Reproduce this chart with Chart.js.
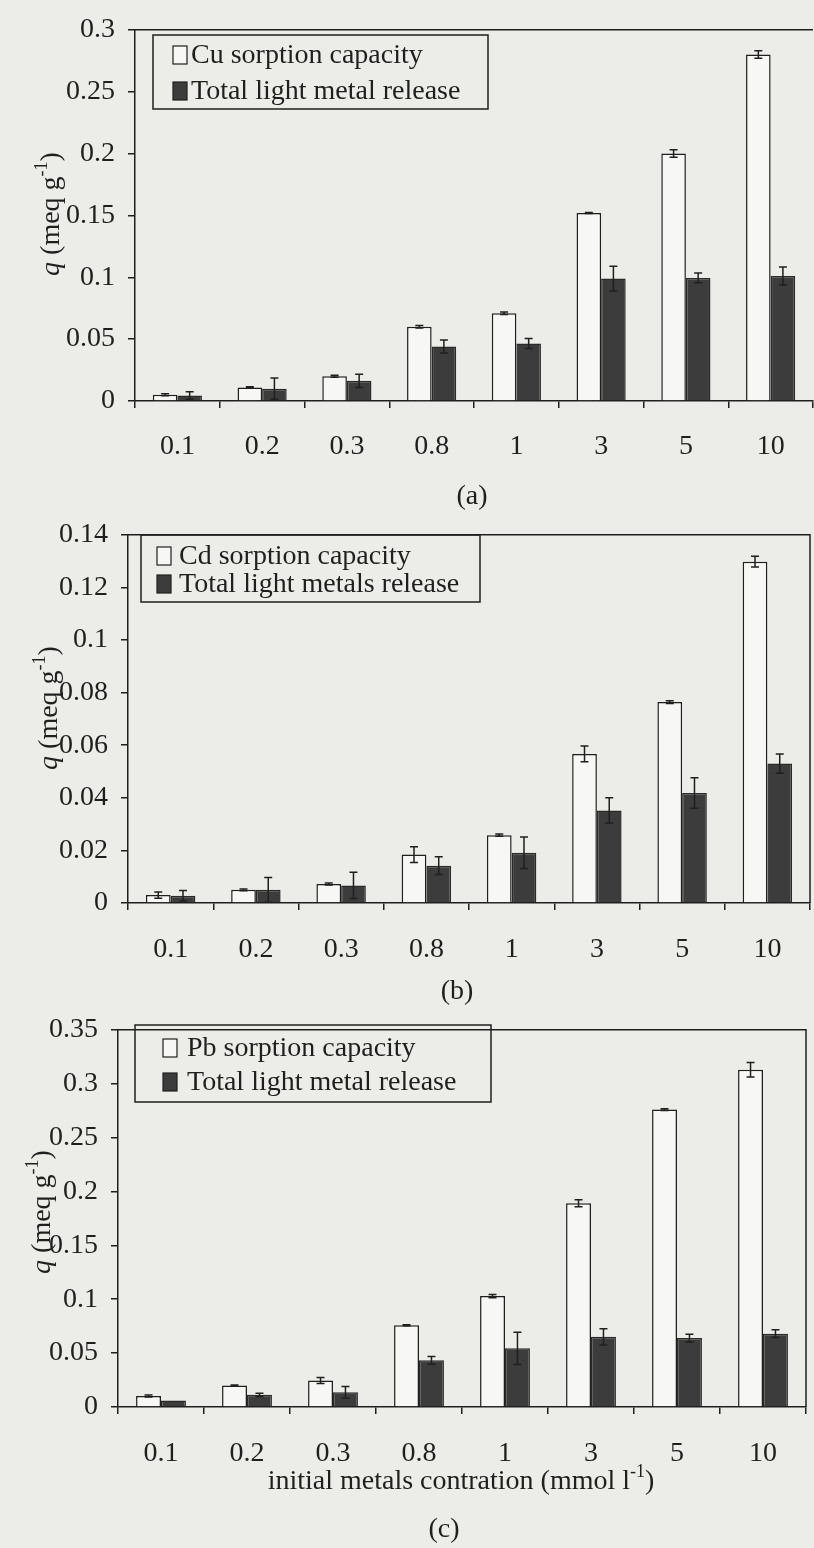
<!DOCTYPE html>
<html>
<head>
<meta charset="utf-8">
<script src="https://cdn.jsdelivr.net/npm/chart.js@4.4.1/dist/chart.umd.min.js"></script>
<style>
  body { margin: 0; background: #ecece9; }
  #page { position: relative; width: 814px; height: 1548px; overflow: hidden; }
  canvas { position: absolute; left: 0; }
</style>
</head>
<body>
<div id="page">
  <canvas id="chartA" width="814" height="515" style="top:0px"></canvas>
  <canvas id="chartB" width="814" height="515" style="top:505px"></canvas>
  <canvas id="chartC" width="814" height="548" style="top:1000px"></canvas>
</div>
<script>
// initial metal concentration (mmol/l), same for all three panels
const concentrations = ['0.1', '0.2', '0.3', '0.8', '1', '3', '5', '10'];

// (a) Cu
const cuSorption    = [0.005, 0.011, 0.020, 0.060, 0.071, 0.152, 0.200, 0.280];
const cuSorptionErr = [0.0008, 0.0006, 0.0009, 0.0010, 0.0010, 0.0004, 0.0030, 0.0030];
const cuRelease     = [0.0045, 0.010, 0.0163, 0.044, 0.0465, 0.099, 0.0995, 0.101];
const cuReleaseErr  = [0.003, 0.0085, 0.0053, 0.0053, 0.004, 0.010, 0.004, 0.0072];

// (b) Cd
const cdSorption    = [0.0030, 0.0050, 0.0072, 0.0184, 0.0258, 0.0567, 0.0764, 0.1298];
const cdSorptionErr = [0.0012, 0.0003, 0.0004, 0.0030, 0.0004, 0.0030, 0.0005, 0.0020];
const cdRelease     = [0.0028, 0.0050, 0.0067, 0.0142, 0.0191, 0.0352, 0.0418, 0.0530];
const cdReleaseErr  = [0.0020, 0.0047, 0.0050, 0.0034, 0.0060, 0.0048, 0.0058, 0.0037];

// (c) Pb
const pbSorption    = [0.0102, 0.0199, 0.0246, 0.0759, 0.1029, 0.189, 0.276, 0.313];
const pbSorptionErr = [0.0010, 0.0004, 0.0027, 0.0005, 0.0015, 0.0033, 0.0008, 0.0067];
const pbRelease     = [0.0060, 0.0113, 0.0136, 0.0433, 0.0544, 0.0651, 0.0640, 0.0680];
const pbReleaseErr  = [0.0000, 0.0015, 0.0054, 0.0036, 0.0150, 0.0075, 0.0036, 0.0036];

const ink = '#1f1f1f';
const barWhite = '#f7f7f5';
const barDark = '#3c3c3c';
const serif = '"Liberation Serif", "Times New Roman", serif';
const tickFont = { family: serif, size: 28 };

// error bars drawn on top of the bars, through the y scale
function errorBarPlugin(errs) {
    return {
        id: 'errorBars',
        afterDatasetsDraw(chart) {
            const ctx = chart.ctx;
            const y = chart.scales.y;
            ctx.save();
            ctx.strokeStyle = ink;
            ctx.lineWidth = 1.5;
            chart.data.datasets.forEach((ds, d) => {
                chart.getDatasetMeta(d).data.forEach((bar, i) => {
                    const e = errs[d][i];
                    if (!e) return;
                    const v = ds.data[i];
                    const top = y.getPixelForValue(v + e);
                    const bot = y.getPixelForValue(Math.max(v - e, 0));
                    ctx.beginPath();
                    ctx.moveTo(bar.x, top); ctx.lineTo(bar.x, bot);
                    ctx.moveTo(bar.x - 4, top); ctx.lineTo(bar.x + 4, top);
                    ctx.moveTo(bar.x - 4, bot); ctx.lineTo(bar.x + 4, bot);
                    ctx.stroke();
                });
            });
            ctx.restore();
        }
    };
}

// draws text pieces in a row, centered on 0; pieces can be raised (superscript)
function drawPieces(ctx, pieces) {
    let total = 0;
    pieces.forEach(p => { ctx.font = p.f; total += ctx.measureText(p.t).width; });
    let x = -total / 2;
    pieces.forEach(p => {
        ctx.font = p.f;
        ctx.fillText(p.t, x, p.dy || 0);
        x += ctx.measureText(p.t).width;
    });
}

function unitPieces(before) {
    return [
        { t: before, f: '28px ' + serif },
        { t: '-1', f: '18px ' + serif, dy: -10 },
        { t: ')', f: '28px ' + serif }
    ];
}

// frame, legend box, axis titles and panel captions
function decorPlugin(spec) {
    return {
        id: 'decor',
        afterDraw(chart) {
            const ctx = chart.ctx;
            const a = chart.chartArea;
            ctx.save();
            ctx.strokeStyle = ink;
            ctx.fillStyle = ink;
            ctx.lineWidth = 1.5;

            // top and right frame
            ctx.beginPath();
            ctx.moveTo(a.left, a.top); ctx.lineTo(a.right, a.top);
            if (spec.rightBorder) ctx.lineTo(a.right, a.bottom);
            ctx.stroke();

            // legend
            const b = spec.legendBox;
            ctx.strokeRect(b[0], b[1], b[2], b[3]);
            ctx.font = '28px ' + serif;
            ctx.textBaseline = 'middle';
            ctx.textAlign = 'left';
            chart.data.datasets.forEach((ds, d) => {
                const cy = spec.rows[d];
                ctx.fillStyle = ds.backgroundColor;
                ctx.fillRect(spec.symX, cy - 9, 14, 18);
                ctx.lineWidth = 1.2;
                ctx.strokeRect(spec.symX, cy - 9, 14, 18);
                ctx.fillStyle = ink;
                ctx.fillText(ds.label, spec.textX, cy + 1);
            });

            // y title: q (meq g-1)
            ctx.save();
            ctx.translate(spec.yTitle[0], spec.yTitle[1]);
            ctx.rotate(-Math.PI / 2);
            drawPieces(ctx, [{ t: 'q', f: 'italic 28px ' + serif }].concat(unitPieces(' (meq g')));
            ctx.restore();

            // x title (bottom panel only)
            if (spec.xTitle) {
                ctx.save();
                ctx.translate(spec.xTitle[0], spec.xTitle[1]);
                drawPieces(ctx, unitPieces('initial metals contration (mmol l'));
                ctx.restore();
            }

            // caption
            ctx.font = '28px ' + serif;
            ctx.textAlign = 'center';
            ctx.fillText(spec.caption[0], spec.caption[1], spec.caption[2]);
            ctx.restore();
        }
    };
}

function panelConfig(spec) {
    return {
        type: 'bar',
        data: {
            labels: concentrations,
            datasets: [
                {
                    label: spec.names[0],
                    data: spec.sorption,
                    backgroundColor: barWhite,
                    borderColor: ink,
                    borderWidth: 1.5,
                    categoryPercentage: 0.58,
                    barPercentage: 1.0
                },
                {
                    label: spec.names[1],
                    data: spec.release,
                    backgroundColor: barDark,
                    borderColor: '#2a2a2a',
                    borderWidth: 1.5,
                    categoryPercentage: 0.58,
                    barPercentage: 1.0
                }
            ]
        },
        options: {
            responsive: false,
            animation: false,
            layout: { padding: { left: 0, top: spec.top, right: spec.right, bottom: 0 } },
            plugins: {
                legend: { display: false },
                tooltip: { enabled: false }
            },
            scales: {
                x: {
                    grid: { offset: true, drawOnChartArea: false, tickLength: 7, color: ink, lineWidth: 1.5 },
                    border: { color: ink, width: 1.5 },
                    ticks: { font: tickFont, color: ink, padding: spec.xPad, maxRotation: 0, autoSkip: false },
                    afterFit: s => { s.height = spec.xHeight; }
                },
                y: {
                    min: 0,
                    max: spec.yMax,
                    grid: { drawOnChartArea: false, tickLength: 7, color: ink, lineWidth: 1.5 },
                    border: { color: ink, width: 1.5 },
                    ticks: {
                        stepSize: spec.step,
                        font: tickFont,
                        color: ink,
                        padding: 13,
                        callback: v => String(+v.toFixed(3))
                    },
                    afterFit: s => { s.width = spec.left; }
                }
            }
        },
        plugins: [
            errorBarPlugin([spec.sorptionErr, spec.releaseErr]),
            decorPlugin(spec)
        ]
    };
}

var chartA = new Chart(document.getElementById('chartA'), panelConfig({
    names: ['Cu sorption capacity', 'Total light metal release'],
    sorption: cuSorption, sorptionErr: cuSorptionErr,
    release: cuRelease, releaseErr: cuReleaseErr,
    yMax: 0.3, step: 0.05,
    left: 135, top: 26, right: 1, xHeight: 114, xPad: 22,
    legendBox: [153, 35, 335, 74], rows: [55, 91], symX: 173, textX: 191,
    yTitle: [52, 214], caption: ['(a)', 472, 497], rightBorder: false
}));

var chartB = new Chart(document.getElementById('chartB'), panelConfig({
    names: ['Cd sorption capacity', 'Total light metals release'],
    sorption: cdSorption, sorptionErr: cdSorptionErr,
    release: cdRelease, releaseErr: cdReleaseErr,
    yMax: 0.14, step: 0.02,
    left: 128, top: 22, right: 4, xHeight: 117, xPad: 23,
    legendBox: [141, 30, 339, 67], rows: [51, 79], symX: 157, textX: 179,
    yTitle: [50, 203], caption: ['(b)', 457, 487], rightBorder: true
}));

var chartC = new Chart(document.getElementById('chartC'), panelConfig({
    names: ['Pb sorption capacity', 'Total light metal release'],
    sorption: pbSorption, sorptionErr: pbSorptionErr,
    release: pbRelease, releaseErr: pbReleaseErr,
    yMax: 0.35, step: 0.05,
    left: 118, top: 17, right: 8, xHeight: 141, xPad: 23,
    legendBox: [135, 25, 356, 77], rows: [48, 82], symX: 163, textX: 187,
    yTitle: [43, 212], xTitle: [461, 482], caption: ['(c)', 444, 530], rightBorder: true
}));
</script>
</body>
</html>
